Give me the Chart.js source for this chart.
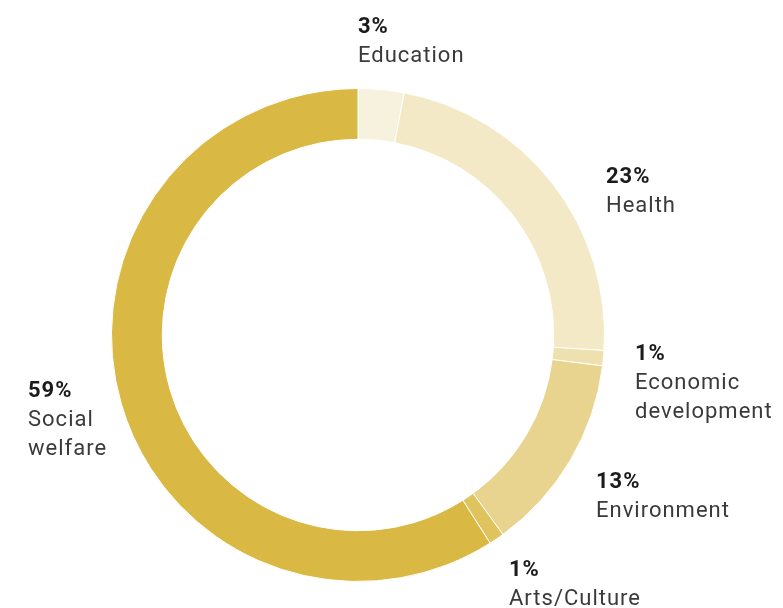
<!DOCTYPE html>
<html>
<head>
<meta charset="utf-8">
<script src="https://cdn.jsdelivr.net/npm/chart.js@4/dist/chart.umd.min.js"></script>
<style>
  html, body { margin: 0; padding: 0; background: #ffffff; }
  #wrap { width: 783px; height: 608px; position: relative; }
</style>
</head>
<body>
<div id="wrap"><canvas id="chart" width="783" height="608"></canvas></div>
<script>
// Share of giving by cause
const categories = ['Education', 'Health', 'Economic development', 'Environment', 'Arts/Culture', 'Social welfare'];
const shares = [3, 23, 1, 13, 1, 59];
const sliceColors = ['#f7f2de', '#f3e9c6', '#eee0af', '#e8d48f', '#dfc35c', '#d9b843'];

// Label text lines and their anchor (left x, first-line centre y)
const labelLines = [['Education'], ['Health'], ['Economic', 'development'], ['Environment'], ['Arts/Culture'], ['Social', 'welfare']];
const labelAnchors = [[358, 27], [606, 177], [635, 354], [596, 482], [509, 570], [28, 391]];

const labelPlugin = {
  id: 'sliceLabels',
  afterDraw(chart) {
    const ctx = chart.ctx;
    const values = chart.data.datasets[0].data;
    ctx.save();
    ctx.textAlign = 'left';
    ctx.textBaseline = 'middle';
    values.forEach((v, i) => {
      const [x, y] = labelAnchors[i];
      ctx.letterSpacing = '1px';
      ctx.fillStyle = '#1b1b1b';
      ctx.font = 'bold 22px Roboto, "Noto Sans", sans-serif';
      ctx.fillText(v + '%', x, y);
      ctx.fillStyle = '#3a3a3a';
      ctx.font = '22px Roboto, "Noto Sans", sans-serif';
      labelLines[i].forEach((line, k) => {
        ctx.fillText(line, x, y + 29 * (k + 1));
      });
    });
    ctx.restore();
  }
};

new Chart(document.getElementById('chart'), {
  type: 'doughnut',
  data: {
    labels: categories,
    datasets: [{
      data: shares,
      backgroundColor: sliceColors,
      borderColor: '#ffffff',
      borderWidth: 1
    }]
  },
  options: {
    responsive: false,
    animation: false,
    cutout: '79.4%',
    layout: { padding: { left: 111, right: 178, top: 88, bottom: 26 } },
    plugins: {
      legend: { display: false },
      tooltip: { enabled: false }
    }
  },
  plugins: [labelPlugin]
});
</script>
</body>
</html>
